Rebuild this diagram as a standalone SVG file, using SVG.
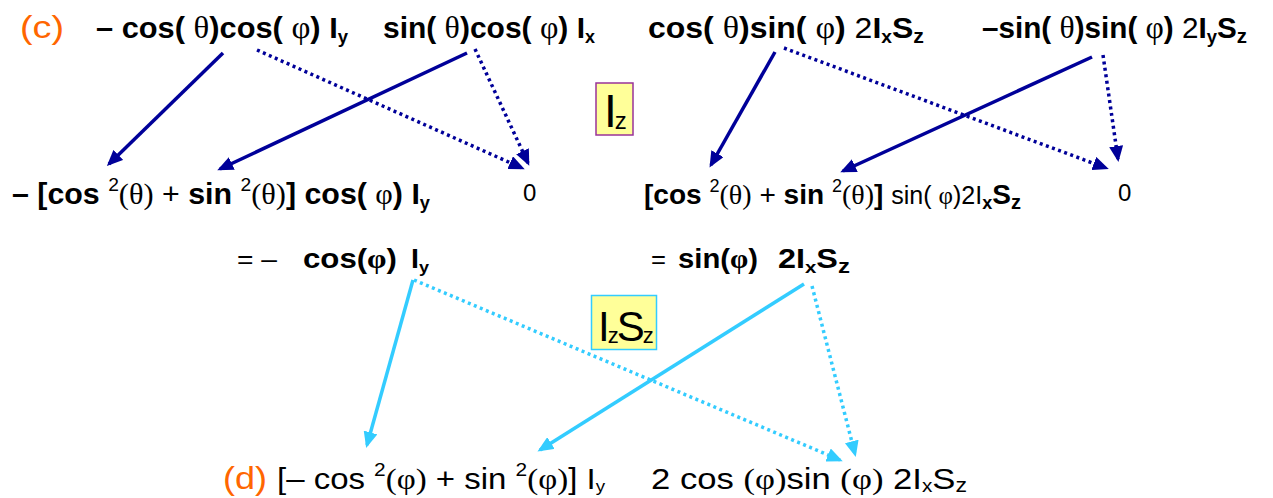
<svg xmlns="http://www.w3.org/2000/svg" width="1273" height="498" viewBox="0 0 1273 498">
<style>
  text { font-family: "Liberation Sans", Arial, sans-serif; fill: #000; }
  .b { font-weight: bold; }
  .n { font-weight: normal; }
  .g { font-family: "Liberation Serif", "DejaVu Serif", serif; font-weight: normal; }
  .gb { font-family: "Liberation Serif", "DejaVu Serif", serif; font-weight: bold; }
  .or { fill: #FF6600; font-weight: normal; }
  .dk { stroke: #000099; stroke-width: 3.5; fill: none; marker-end: url(#ahd); }
  .lt { stroke: #33CCFF; stroke-width: 3.5; fill: none; marker-end: url(#ahl); }
  .dot { stroke-dasharray: 3 3.5; }
</style>
<defs>
  <marker id="ahd" markerUnits="userSpaceOnUse" markerWidth="16" markerHeight="14" refX="13" refY="7" orient="auto">
    <path d="M0,0 L16,7 L0,14 Z" fill="#000099" stroke="none"/>
  </marker>
  <marker id="ahl" markerUnits="userSpaceOnUse" markerWidth="16" markerHeight="14" refX="13" refY="7" orient="auto">
    <path d="M0,0 L16,7 L0,14 Z" fill="#33CCFF" stroke="none"/>
  </marker>
</defs>
<rect width="1273" height="498" fill="#fff"/>

<g id="connectors">
  <line class="dk" x1="223" y1="53" x2="109" y2="164"/>
  <line class="dk dot" x1="257" y1="50" x2="522" y2="168"/>
  <line class="dk" x1="467" y1="53" x2="220" y2="169"/>
  <line class="dk dot" x1="475" y1="49" x2="528" y2="163"/>
  <line class="dk" x1="775" y1="52" x2="711" y2="165"/>
  <line class="dk dot" x1="784" y1="48" x2="1106" y2="168"/>
  <line class="dk" x1="1092" y1="57" x2="843" y2="171"/>
  <line class="dk dot" x1="1103" y1="55" x2="1118" y2="159"/>
  <line class="lt" x1="413" y1="280" x2="367" y2="445"/>
  <line class="lt dot" x1="414" y1="280" x2="840" y2="460"/>
  <line class="lt" x1="804" y1="284" x2="540" y2="450"/>
  <line class="lt dot" x1="812" y1="286" x2="855" y2="454"/>
</g>

<g id="label-c">
  <text x="20" y="38" class="or" font-size="31" textLength="44" lengthAdjust="spacingAndGlyphs">(c)</text>
</g>

<g id="t1">
  <text x="96" y="38" class="b" font-size="30" textLength="252" lengthAdjust="spacingAndGlyphs">– cos( <tspan class="g" font-size="32">θ</tspan>)cos( <tspan class="g" font-size="32">φ</tspan>) I<tspan font-size="18" dy="5">y</tspan></text>
</g>
<g id="t2">
  <text x="383" y="38" class="b" font-size="30" textLength="212" lengthAdjust="spacingAndGlyphs">sin( <tspan class="g" font-size="32">θ</tspan>)cos( <tspan class="g" font-size="32">φ</tspan>) I<tspan font-size="18" dy="5">x</tspan></text>
</g>
<g id="t3">
  <text x="648" y="38" class="b" font-size="30" textLength="276" lengthAdjust="spacingAndGlyphs">cos( <tspan class="g" font-size="32">θ</tspan>)sin( <tspan class="g" font-size="32">φ</tspan>) <tspan class="n">2</tspan>I<tspan font-size="18" dy="5">x</tspan><tspan dy="-5">S</tspan><tspan font-size="20" dy="5">z</tspan></text>
</g>
<g id="t4">
  <text x="982" y="38" class="b" font-size="29" textLength="265" lengthAdjust="spacingAndGlyphs">–sin( <tspan class="g" font-size="31">θ</tspan>)sin( <tspan class="g" font-size="31">φ</tspan>) <tspan class="n">2</tspan>I<tspan font-size="18" dy="5">y</tspan><tspan dy="-5">S</tspan><tspan font-size="20" dy="5">z</tspan></text>
</g>

<g id="box-iz">
  <rect x="596" y="83" width="37" height="52" fill="#FFFF99" stroke="#993399" stroke-width="1.5"/>
  <text x="604" y="127" font-size="46" letter-spacing="-2">I<tspan font-size="24" dy="2">z</tspan></text>
</g>

<g id="r2a">
  <text x="12" y="204" class="b" font-size="30" textLength="418" lengthAdjust="spacingAndGlyphs">– [cos <tspan class="n" font-size="19" dy="-13">2</tspan><tspan class="g" dy="13">(θ)</tspan> <tspan class="n">+</tspan> sin <tspan class="n" font-size="19" dy="-13">2</tspan><tspan class="g" dy="13">(θ)</tspan>] cos( <tspan class="g">φ</tspan>) I<tspan font-size="18" dy="5">y</tspan></text>
</g>
<g id="r2b">
  <text x="523" y="201" class="n" font-size="24">0</text>
</g>
<g id="r2c">
  <text x="644" y="204" class="b" font-size="28" textLength="377" lengthAdjust="spacingAndGlyphs">[cos <tspan class="n" font-size="18" dy="-12">2</tspan><tspan class="g" dy="12">(θ)</tspan> <tspan class="n">+</tspan> sin <tspan class="n" font-size="18" dy="-12">2</tspan><tspan class="g" dy="12">(θ)</tspan>]  <tspan class="n" font-size="25">sin( <tspan class="g">φ</tspan>)2I</tspan><tspan font-size="18" dy="5">x</tspan><tspan dy="-5">S</tspan><tspan font-size="20" dy="5">z</tspan></text>
</g>
<g id="r2d">
  <text x="1118" y="201" class="n" font-size="24">0</text>
</g>

<g id="r3a">
  <text x="237" y="268" class="n" font-size="25" textLength="40" lengthAdjust="spacingAndGlyphs">= –</text>
  <text x="303" y="268" class="b" font-size="27" textLength="94" lengthAdjust="spacingAndGlyphs">cos(<tspan class="gb">φ</tspan>)</text>
  <text x="411" y="268" class="b" font-size="27" textLength="18" lengthAdjust="spacingAndGlyphs">I<tspan font-size="17" dy="5">y</tspan></text>
</g>
<g id="r3b">
  <text x="651" y="268" class="n" font-size="25" textLength="15" lengthAdjust="spacingAndGlyphs">=</text>
  <text x="678" y="268" class="b" font-size="27" textLength="80" lengthAdjust="spacingAndGlyphs">sin(<tspan class="gb">φ</tspan>)</text>
  <text x="778" y="268" class="b" font-size="27" textLength="72" lengthAdjust="spacingAndGlyphs">2I<tspan font-size="17" dy="5">x</tspan><tspan dy="-5">S</tspan><tspan font-size="20" dy="5">z</tspan></text>
</g>

<g id="box-izsz">
  <rect x="591.5" y="295.5" width="65" height="54" fill="#FFFF99" stroke="#33CCFF" stroke-width="1.5"/>
  <text x="598" y="341" font-size="42" letter-spacing="-2">I<tspan font-size="22" dy="2">z</tspan><tspan dy="-2">S</tspan><tspan font-size="22" dy="2">z</tspan></text>
</g>

<g id="label-d">
  <text x="223" y="489" class="or" font-size="31" textLength="44" lengthAdjust="spacingAndGlyphs">(d)</text>
</g>
<g id="r4a">
  <text x="277" y="489" class="n" font-size="30" textLength="328" lengthAdjust="spacingAndGlyphs">[– cos <tspan font-size="19" dy="-13">2</tspan><tspan class="g" dy="13">(φ)</tspan> + sin <tspan font-size="19" dy="-13">2</tspan><tspan class="g" dy="13">(φ)</tspan>] I<tspan font-size="17" dy="3">y</tspan></text>
</g>
<g id="r4b">
  <text x="651" y="489" class="n" font-size="30" textLength="316" lengthAdjust="spacingAndGlyphs">2  cos  <tspan class="g">(φ)</tspan>sin  <tspan class="g">(φ)</tspan> 2I<tspan font-size="18" dy="3">x</tspan><tspan dy="-3">S</tspan><tspan font-size="20" dy="3">z</tspan></text>
</g>
</svg>
